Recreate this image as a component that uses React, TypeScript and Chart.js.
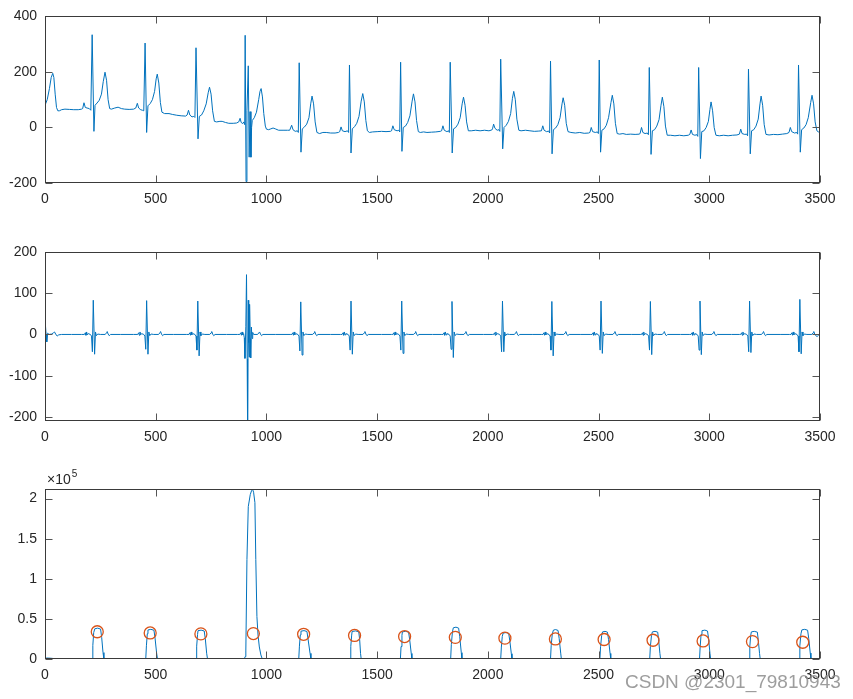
import React, { useEffect, useRef } from "react";
import { Chart, registerables } from "chart.js";

Chart.register(...registerables);

const W = 853;
const H = 699;

// ---------- tick values ----------
const xTicks = [0, 500, 1000, 1500, 2000, 2500, 3000, 3500];
const yTicksRaw = [-200, 0, 200, 400];
const yTicksFilt = [-200, -100, 0, 100, 200];
const yTicksMwi = [0, 50000, 100000, 150000, 200000];

// ---------- panel 1: raw ECG (sample, amplitude) ----------
const rawEcg: [number, number][] = [
  [0, 80], [10, 100], [20, 140], [28, 180], [35, 195], [40, 180], [46, 120], [52, 72], [58, 60], [65, 60], [75, 64], [90, 66], [110, 65], [130, 64], [150, 64], [165, 66],
  [170, 68], [176, 89], [182, 72], [190, 70], [200, 68], [207, 62], [213, 334], [221, -14], [226, 80], [235, 88], [245, 98], [255, 120], [263, 165], [271, 199], [278, 170], [285, 100], [292, 68], [300, 66], [315, 70], [330, 73], [345, 68], [360, 66], [380, 65], [400, 66],
  [410, 70], [417, 87], [423, 70], [432, 64], [440, 62], [446, 60], [452, 304], [459, -18], [465, 78], [475, 86], [485, 100], [495, 130], [502, 175], [507, 192], [514, 160], [521, 90], [528, 55], [540, 50], [560, 50], [575, 47], [595, 44], [615, 42], [635, 41],
  [642, 45], [648, 62], [654, 45], [664, 38], [672, 40], [677, 36], [682, 287], [691, -41], [697, 40], [707, 45], [717, 60], [728, 85], [737, 125], [743, 145], [750, 120], [757, 60], [765, 22], [775, 20], [790, 22], [800, 22], [815, 18], [830, 15], [850, 15], [865, 16],
  [875, 20], [881, 33], [886, 18], [893, 14], [898, 20], [902, 10], [904, 332], [908, -195], [912, 60], [918, 222], [922, -107], [926, 57], [930, -107], [933, 0], [936, 25], [945, 35], [955, 55], [965, 100], [971, 130], [976, 140], [982, 110], [988, 50], [995, 5], [1000, -6], [1010, -8], [1020, -5], [1030, -2], [1040, -5], [1055, -10], [1075, -10], [1095, -10],
  [1105, -10], [1114, 8], [1120, -8], [1130, -14], [1140, -12], [1144, -18], [1148, 233], [1156, -89], [1162, -5], [1172, 2], [1182, 12], [1192, 35], [1200, 85], [1206, 113], [1213, 85], [1220, 20], [1228, -18], [1240, -22], [1255, -18], [1270, -18], [1290, -20], [1310, -20], [1325, -18],
  [1331, -15], [1337, 2], [1343, -12], [1355, -15], [1366, -12], [1371, -18], [1375, 225], [1382, -92], [1388, -5], [1398, 3], [1408, 15], [1418, 40], [1428, 95], [1435, 122], [1442, 92], [1449, 25], [1456, -12], [1465, -18], [1480, -16], [1500, -15], [1520, -14], [1540, -15], [1560, -14],
  [1565, -12], [1571, 6], [1577, -8], [1590, -12], [1598, -10], [1602, -16], [1606, 235], [1612, -86], [1618, 0], [1628, 5], [1638, 18], [1648, 42], [1658, 95], [1664, 121], [1671, 92], [1678, 25], [1686, -15], [1695, -18], [1710, -16], [1725, -18], [1745, -17], [1765, -16], [1785, -14],
  [1791, -12], [1797, 6], [1803, -10], [1815, -15], [1823, -12], [1826, -18], [1830, 235], [1839, -92], [1845, -5], [1855, 0], [1865, 12], [1875, 35], [1884, 85], [1890, 109], [1897, 80], [1904, 20], [1912, -12], [1925, -12], [1945, -10], [1965, -12], [1985, -10], [2005, -12], [2018, -9],
  [2021, -5], [2026, 12], [2032, -3], [2042, -10], [2050, -8], [2054, -14], [2058, 246], [2067, -77], [2073, 0], [2083, 8], [2093, 22], [2103, 50], [2111, 105], [2117, 130], [2124, 100], [2131, 30], [2140, -10], [2150, -12], [2170, -10], [2190, -12], [2210, -14], [2230, -13],
  [2242, -12], [2248, 6], [2254, -10], [2265, -15], [2275, -13], [2279, -20], [2283, 239], [2290, -95], [2296, -8], [2306, -2], [2316, 10], [2326, 35], [2335, 85], [2340, 107], [2347, 80], [2354, 15], [2362, -15], [2375, -18], [2395, -20], [2415, -18], [2435, -21], [2455, -20],
  [2461, -18], [2467, 0], [2473, -15], [2485, -18], [2495, -16], [2499, -22], [2503, 243], [2509, -89], [2515, -10], [2525, -5], [2535, 8], [2545, 35], [2556, 90], [2562, 116], [2569, 85], [2576, 15], [2584, -22], [2595, -24], [2610, -22], [2625, -25], [2645, -24], [2665, -25], [2685, -24],
  [2688, -20], [2694, 0], [2700, -18], [2710, -22], [2720, -20], [2725, -26], [2729, 216], [2737, -97], [2743, -12], [2753, -8], [2763, 5], [2773, 28], [2782, 80], [2788, 109], [2795, 75], [2802, 5], [2810, -28], [2825, -28], [2845, -30], [2865, -28], [2885, -30], [2905, -28],
  [2912, -25], [2918, -9], [2924, -25], [2935, -28], [2944, -26], [2948, -32], [2952, 216], [2960, -112], [2966, -15], [2976, -12], [2986, 0], [2996, 22], [3003, 65], [3008, 92], [3015, 60], [3022, 0], [3030, -28], [3045, -30], [3065, -28], [3085, -30], [3105, -28], [3125, -27],
  [3136, -24], [3142, -6], [3148, -22], [3160, -25], [3169, -24], [3173, -30], [3177, 210], [3185, -95], [3191, -12], [3201, -8], [3211, 5], [3221, 30], [3229, 85], [3234, 113], [3241, 80], [3248, 10], [3256, -25], [3270, -27], [3290, -25], [3310, -26], [3330, -24], [3350, -22],
  [3360, -18], [3366, 0], [3372, -15], [3385, -20], [3395, -18], [3399, -24], [3403, 225], [3411, -89], [3417, -8], [3427, -2], [3437, 10], [3447, 35], [3458, 90], [3464, 116], [3471, 85], [3478, 20], [3486, -12], [3493, -16], [3500, -14],
];

// ---------- panel 2: filtered ECG ----------
const filteredEcg: [number, number][] = [
  [0, -25], [2, 22], [5, 0], [8, -18], [12, 3], [18, 0], [30, 1], [38, 4], [43, 6], [48, 1], [55, -4], [62, -1], [75, 0], [120, 0], [165, 0],
  [178, 0], [182, 4], [185, -2], [188, 6], [191, -1], [195, 2], [205, 0], [210, -4], [214, -42], [218, 83], [224, -48], [228, 6], [232, -3], [238, 1], [250, 0], [272, 0], [278, 4], [281, 7], [285, 1], [290, -3], [296, 0], [340, 0], [400, 0],
  [419, 0], [423, 4], [426, -2], [429, 6], [432, -1], [436, 2], [446, 0], [451, -4], [455, -36], [459, 82], [465, -48], [469, 6], [473, -3], [479, 1], [491, 0], [513, 0], [519, 4], [522, 7], [526, 1], [531, -3], [537, 0], [580, 0], [640, 0],
  [650, 0], [654, 4], [657, -2], [660, 6], [663, -1], [667, 2], [677, 0], [682, -4], [686, -38], [690, 81], [696, -52], [700, 6], [704, -3], [710, 1], [722, 0], [744, 0], [750, 4], [753, 7], [757, 1], [762, -3], [768, 0], [820, 0], [870, 0],
  [880, 0], [884, 4], [887, -2], [890, 6], [893, -1], [897, 2], [900, -8], [903, -58], [907, 20], [910, 145], [913, -60], [915, -230], [918, 83], [920, -20], [922, -55], [924, 73], [927, -10], [929, -57], [932, 18], [935, -10], [938, 5], [942, 0], [960, 0], [966, 4], [969, 6], [973, 1], [978, -3], [984, 0], [1040, 0], [1110, 0],
  [1115, 0], [1119, 4], [1122, -2], [1125, 6], [1128, -1], [1132, 2], [1142, 0], [1147, -4], [1151, -40], [1155, 79], [1161, -50], [1165, 6], [1169, -3], [1175, 1], [1187, 0], [1209, 0], [1215, 4], [1218, 7], [1222, 1], [1227, -3], [1233, 0], [1290, 0], [1335, 0],
  [1342, 0], [1346, 4], [1349, -2], [1352, 6], [1355, -1], [1359, 2], [1369, 0], [1374, -4], [1378, -38], [1382, 81], [1388, -48], [1392, 6], [1396, -3], [1402, 1], [1414, 0], [1436, 0], [1442, 4], [1445, 7], [1449, 1], [1454, -3], [1460, 0], [1520, 0], [1565, 0],
  [1571, 0], [1575, 4], [1578, -2], [1581, 6], [1584, -1], [1588, 2], [1598, 0], [1603, -4], [1607, -38], [1611, 81], [1617, -46], [1621, 6], [1625, -3], [1631, 1], [1643, 0], [1665, 0], [1671, 4], [1674, 7], [1678, 1], [1683, -3], [1689, 0], [1750, 0], [1792, 0],
  [1798, 0], [1802, 4], [1805, -2], [1808, 6], [1811, -1], [1815, 2], [1825, 0], [1830, -4], [1834, -36], [1838, 80], [1844, -56], [1848, 6], [1852, -3], [1858, 1], [1870, 0], [1892, 0], [1898, 4], [1901, 7], [1905, 1], [1910, -3], [1916, 0], [1980, 0], [2020, 0],
  [2026, 0], [2030, 4], [2033, -2], [2036, 6], [2039, -1], [2043, 2], [2053, 0], [2058, -4], [2062, -42], [2066, 81], [2072, -42], [2076, 6], [2080, -3], [2086, 1], [2098, 0], [2120, 0], [2126, 4], [2129, 7], [2133, 1], [2138, -3], [2144, 0], [2200, 0], [2243, 0],
  [2249, 0], [2253, 4], [2256, -2], [2259, 6], [2262, -1], [2266, 2], [2276, 0], [2281, -4], [2285, -38], [2289, 80], [2295, -52], [2299, 6], [2303, -3], [2309, 1], [2321, 0], [2343, 0], [2349, 4], [2352, 7], [2356, 1], [2361, -3], [2367, 0], [2420, 0], [2465, 0],
  [2471, 0], [2475, 4], [2478, -2], [2481, 6], [2484, -1], [2488, 2], [2498, 0], [2503, -4], [2507, -38], [2511, 81], [2517, -46], [2521, 6], [2525, -3], [2531, 1], [2543, 0], [2565, 0], [2571, 4], [2574, 7], [2578, 1], [2583, -3], [2589, 0], [2650, 0], [2688, 0],
  [2694, 0], [2698, 4], [2701, -2], [2704, 6], [2707, -1], [2711, 2], [2721, 0], [2726, -4], [2730, -38], [2734, 80], [2740, -49], [2744, 6], [2748, -3], [2754, 1], [2766, 0], [2788, 0], [2794, 4], [2797, 7], [2801, 1], [2806, -3], [2812, 0], [2870, 0], [2912, 0],
  [2918, 0], [2922, 4], [2925, -2], [2928, 6], [2931, -1], [2935, 2], [2945, 0], [2950, -4], [2954, -38], [2958, 81], [2964, -49], [2968, 6], [2972, -3], [2978, 1], [2990, 0], [3012, 0], [3018, 4], [3021, 7], [3025, 1], [3030, -3], [3036, 0], [3100, 0], [3136, 0],
  [3142, 0], [3146, 4], [3149, -2], [3152, 6], [3155, -1], [3159, 2], [3169, 0], [3174, -4], [3178, -42], [3182, 81], [3188, -44], [3192, 6], [3196, -3], [3202, 1], [3214, 0], [3236, 0], [3242, 4], [3245, 7], [3249, 1], [3254, -3], [3260, 0], [3320, 0], [3363, 0],
  [3369, 0], [3373, 4], [3376, -2], [3379, 6], [3382, -1], [3386, 2], [3396, 0], [3401, -4], [3405, -42], [3409, 85], [3415, -47], [3419, 6], [3423, -3], [3429, 1], [3441, 0], [3463, 0], [3469, 4], [3472, 7], [3476, 1], [3481, -3], [3487, -5], [3493, -2], [3500, -3],
];

// ---------- panel 3: moving-window integration ----------
const integratedEcg: [number, number][] = [
  [0, 800], [8, 1200], [25, 1000], [38, 600], [45, 0],
  [213, 0], [216, 17000], [220, 33000], [225, 37700], [238, 38500], [251, 37300], [256, 27000], [262, 8000], [266, 0],
  [455, 0], [458, 16500], [462, 31500], [465, 36200], [478, 37000], [492, 35900], [497, 26000], [504, 7500], [508, 0],
  [682, 0], [685, 16000], [689, 30600], [691, 35300], [705, 36000], [719, 34900], [724, 25200], [730, 7200], [734, 0],
  [900, 0], [904, 3000], [907, 10000], [912, 124000], [918, 190000], [927, 205000], [933, 210000], [937, 212000], [942, 208000], [948, 195000], [952, 124000], [957, 53000], [962, 30000], [968, 15000], [975, 5000], [980, 1000], [985, 0],
  [1146, 0], [1149, 16000], [1153, 30000], [1156, 34700], [1170, 35400], [1183, 34300], [1188, 24800], [1197, 7000], [1201, 0],
  [1378, 0], [1381, 15800], [1385, 29800], [1387, 34300], [1402, 35000], [1417, 34000], [1421, 24500], [1425, 7000], [1428, 0],
  [1605, 0], [1608, 15500], [1612, 29300], [1614, 33800], [1628, 34500], [1642, 33500], [1647, 24000], [1654, 6900], [1657, 0],
  [1832, 0], [1835, 17900], [1840, 33700], [1844, 38900], [1856, 39700], [1868, 38500], [1873, 27800], [1880, 7900], [1883, 0],
  [2058, 0], [2061, 14900], [2065, 28000], [2069, 32300], [2082, 33000], [2094, 32000], [2099, 23100], [2106, 6600], [2109, 0],
  [2283, 0], [2286, 16500], [2291, 31200], [2296, 36000], [2306, 36700], [2317, 35600], [2322, 25700], [2329, 7300], [2332, 0],
  [2506, 0], [2509, 15500], [2514, 29300], [2518, 33800], [2529, 34500], [2540, 33500], [2545, 24200], [2552, 6900], [2555, 0],
  [2731, 0], [2734, 15500], [2739, 29300], [2743, 33800], [2755, 34500], [2767, 33500], [2771, 24200], [2777, 6900], [2780, 0],
  [2956, 0], [2959, 16200], [2963, 30600], [2967, 35300], [2980, 36000], [2992, 34900], [2997, 25200], [3003, 7200], [3006, 0],
  [3180, 0], [3183, 15500], [3187, 29300], [3190, 33800], [3203, 34500], [3217, 33500], [3221, 24200], [3227, 6900], [3230, 0],
  [3406, 0], [3409, 16600], [3414, 31400], [3418, 36300], [3431, 37000], [3444, 35900], [3449, 25900], [3456, 7400], [3459, 0], [3500, 0],
];

// ---------- detected peaks (circles) ----------
const peakX = [236, 475, 704, 941, 1168, 1398, 1624, 1853, 2077, 2305, 2525, 2746, 2972, 3195, 3422];
const peakY = [34000, 32500, 31300, 31700, 30800, 29400, 28000, 27000, 26000, 25000, 24300, 23400, 22500, 21700, 20900];

// ---------- styling / layout ----------
const LINE = "#0072BD";
const MARK = "#D95319";
const AXIS = "#262626";
const FONT = '"Liberation Sans", Arial, Helvetica, sans-serif';
const PLOT_LEFT = 45;
const PLOT_RIGHT = 820;

const toXY = (arr: [number, number][]) => arr.map(([x, y]) => ({ x, y }));

const matlabAxes = {
  id: "matlabAxes",
  afterDraw(chart: any, _args: any, opts: any) {
    const { ctx, chartArea: a, scales } = chart;
    ctx.save();
    const L = Math.round(a.left) + 0.5;
    const R = Math.round(a.right) - 0.5;
    const T = Math.round(a.top) + 0.5;
    const B = Math.round(a.bottom) - 0.5;
    const tl = 7;
    ctx.strokeStyle = "#555555";
    ctx.lineWidth = 1;
    ctx.beginPath();
    for (const v of opts.xTicks as number[]) {
      const px = Math.round(scales.x.getPixelForValue(v)) + 0.5;
      ctx.moveTo(px, B);
      ctx.lineTo(px, B - tl);
      ctx.moveTo(px, T);
      ctx.lineTo(px, T + tl);
    }
    for (const v of opts.yTicks as number[]) {
      const py = Math.round(scales.y.getPixelForValue(v)) + 0.5;
      ctx.moveTo(L, py);
      ctx.lineTo(L + tl, py);
      ctx.moveTo(R, py);
      ctx.lineTo(R - tl, py);
    }
    ctx.stroke();
    ctx.strokeStyle = "#3a3a3a";
    ctx.strokeRect(L, T, R - L, B - T);
    if (opts.exponent) {
      ctx.fillStyle = AXIS;
      ctx.textBaseline = "alphabetic";
      ctx.textAlign = "left";
      ctx.font = `14px ${FONT}`;
      const base = "×10";
      ctx.fillText(base, a.left + 2, a.top - 5);
      const w = ctx.measureText(base).width;
      ctx.font = `10px ${FONT}`;
      ctx.fillText("5", a.left + 2 + w + 1, a.top - 12);
    }
    ctx.restore();
  },
};

type PanelCfg = {
  top: number;
  bottom: number;
  yMin: number;
  yMax: number;
  yTicks: number[];
  yLabel: (v: number) => string;
  datasets: any[];
  exponent?: boolean;
};

const panels: PanelCfg[] = [
  {
    top: 14,
    bottom: 183,
    yMin: -200,
    yMax: 400,
    yTicks: yTicksRaw,
    yLabel: (v) => String(v),
    datasets: [
      { data: toXY(rawEcg), borderColor: LINE, borderWidth: 1, pointRadius: 0, tension: 0, fill: false },
    ],
  },
  {
    top: 252,
    bottom: 421,
    yMin: -210,
    yMax: 200,
    yTicks: yTicksFilt,
    yLabel: (v) => String(v),
    datasets: [
      { data: toXY(filteredEcg), borderColor: LINE, borderWidth: 1, pointRadius: 0, tension: 0, fill: false },
    ],
  },
  {
    top: 489,
    bottom: 659,
    yMin: 0,
    yMax: 212000,
    yTicks: yTicksMwi,
    yLabel: (v) => String(v / 100000),
    exponent: true,
    datasets: [
      {
        data: peakX.map((x, i) => ({ x, y: peakY[i] })),
        showLine: false,
        borderColor: MARK,
        backgroundColor: "rgba(0,0,0,0)",
        pointRadius: 6,
        pointBorderWidth: 1.3,
        pointStyle: "circle",
      },
      { data: toXY(integratedEcg), borderColor: LINE, borderWidth: 1, pointRadius: 0, tension: 0, fill: false },
    ],
  },
];

export default function App() {
  const refs = [useRef<HTMLCanvasElement>(null), useRef<HTMLCanvasElement>(null), useRef<HTMLCanvasElement>(null)];

  useEffect(() => {
    const charts: Chart[] = [];
    panels.forEach((p, i) => {
      const canvas = refs[i].current;
      if (!canvas) return;
      const tickFont = { family: FONT, size: 14 };
      const chart = new Chart(canvas, {
        type: "line",
        data: { datasets: p.datasets },
        plugins: [matlabAxes as any],
        options: {
          responsive: false,
          animation: false,
          devicePixelRatio: 1,
          events: [],
          layout: {
            padding: { top: p.top, left: 0, right: W - PLOT_RIGHT, bottom: H - p.bottom - 30 },
          },
          plugins: {
            legend: { display: false },
            tooltip: { enabled: false },
            matlabAxes: { xTicks, yTicks: p.yTicks, exponent: !!p.exponent },
          } as any,
          scales: {
            x: {
              type: "linear",
              min: 0,
              max: 3500,
              grid: { display: false, drawTicks: false },
              border: { display: false },
              ticks: {
                padding: 8,
                color: AXIS,
                font: tickFont,
                maxRotation: 0,
                autoSkip: false,
                callback: (v: any) => String(v),
              },
              afterBuildTicks: (s: any) => {
                s.ticks = xTicks.map((v) => ({ value: v }));
              },
              afterFit: (s: any) => {
                s.height = 30;
              },
            },
            y: {
              type: "linear",
              min: p.yMin,
              max: p.yMax,
              grid: { display: false, drawTicks: false },
              border: { display: false },
              ticks: {
                padding: 8,
                color: AXIS,
                font: tickFont,
                autoSkip: false,
                callback: (v: any) => p.yLabel(Number(v)),
              },
              afterBuildTicks: (s: any) => {
                s.ticks = p.yTicks.map((v) => ({ value: v }));
              },
              afterFit: (s: any) => {
                s.width = PLOT_LEFT;
              },
            },
          },
        } as any,
      });
      charts.push(chart);
    });
    return () => charts.forEach((c) => c.destroy());
  }, []);

  return (
    <div style={{ position: "absolute", left: 0, top: 0, width: W, height: H, background: "#ffffff" }}>
      {refs.map((r, i) => (
        <canvas
          key={i}
          ref={r}
          width={W}
          height={H}
          style={{ position: "absolute", left: 0, top: 0, width: W, height: H }}
        />
      ))}
      <div
        style={{
          position: "absolute",
          left: 625,
          top: 672,
          fontFamily: FONT,
          fontSize: 19,
          lineHeight: "19px",
          color: "rgba(140,140,140,0.85)",
          whiteSpace: "nowrap",
        }}
      >
        CSDN @2301_79810943
      </div>
    </div>
  );
}
